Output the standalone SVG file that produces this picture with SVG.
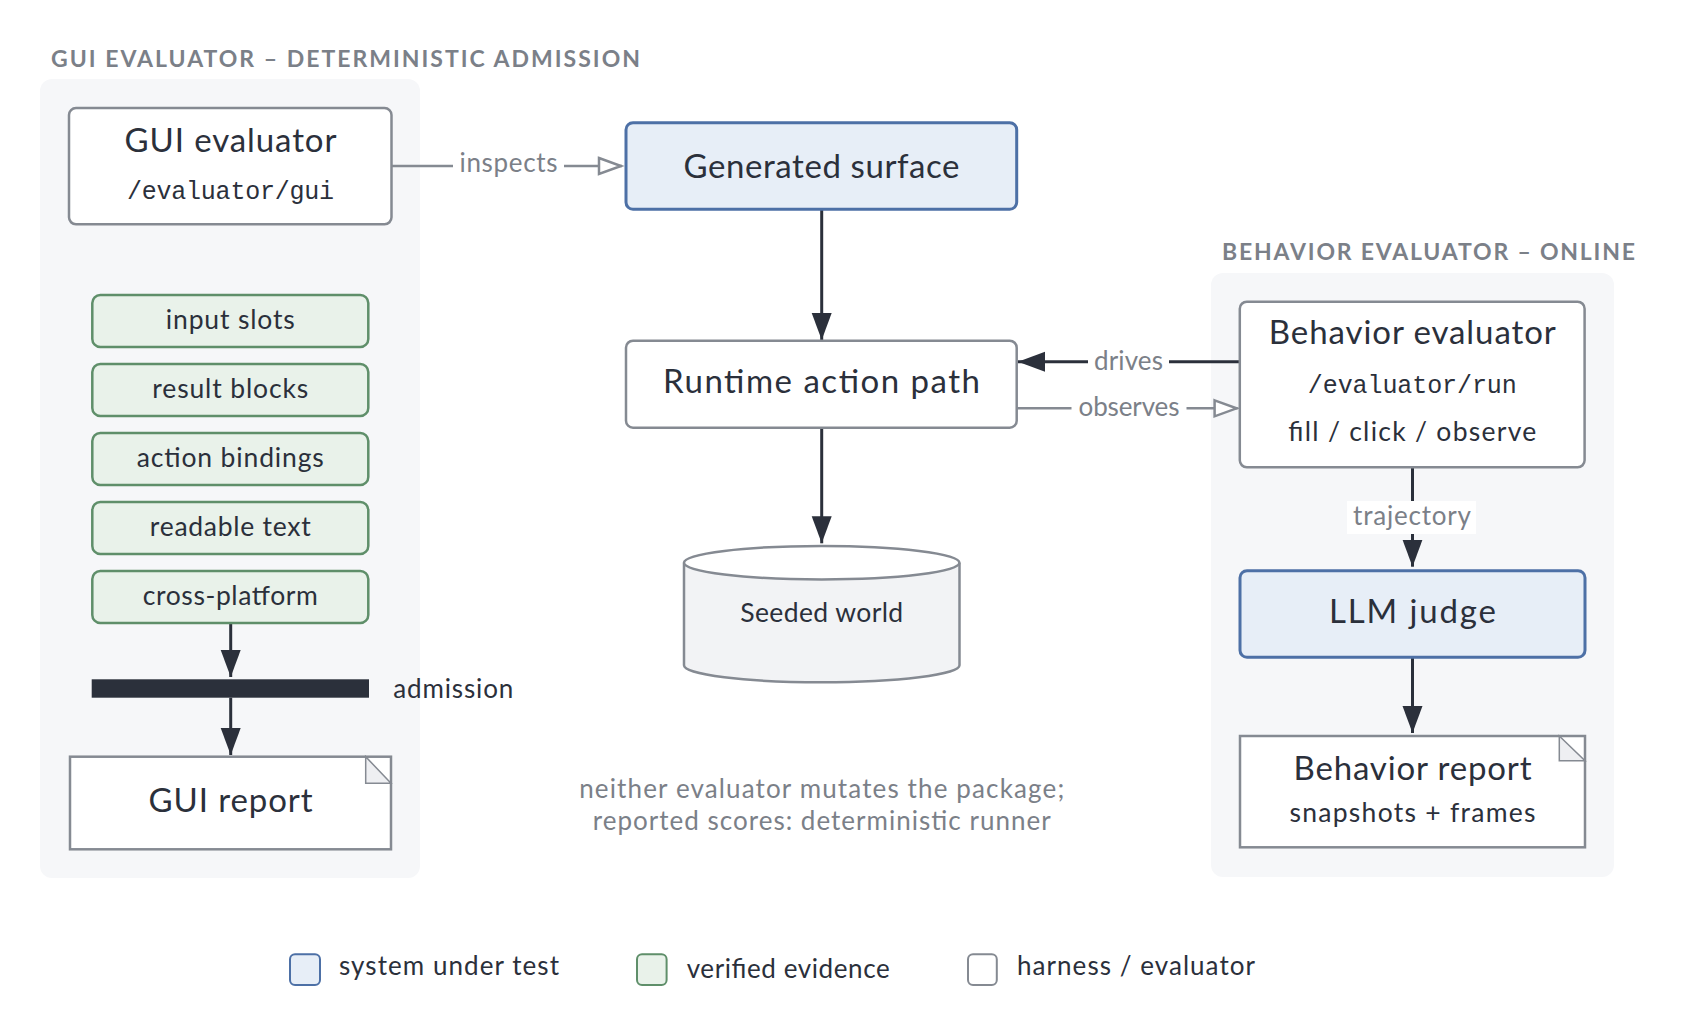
<svg xmlns="http://www.w3.org/2000/svg" width="1700" height="1031" viewBox="0 0 1700 1031">
<style>
text{font-family:Lato,"Noto Sans","DejaVu Sans",sans-serif;fill:#2b303b}
.sec{font-weight:700;font-size:23px;fill:#7b8088}
.big{font-size:33px;text-anchor:middle}
.mid{font-size:26.5px;text-anchor:middle}
.mono{font-family:"Liberation Mono","DejaVu Sans Mono",monospace;font-size:25px;text-anchor:middle}
.lbl{font-size:26px;fill:#7b8088;text-anchor:middle}
.note{font-size:26px;fill:#7b8088;text-anchor:middle}
.leg{font-size:26px}
.panel{fill:#f6f7f9}
.sut{fill:#e7eef7;stroke:#4d70a6;stroke-width:3}
.ev{fill:#e9f2ea;stroke:#5f8f6a;stroke-width:2.5}
.har{fill:#ffffff;stroke:#858a92;stroke-width:2.5}
.ear{fill:#eeeff2;stroke:#858a92;stroke-width:1.5}
.dk{stroke:#2b303b;stroke-width:3;fill:none}
.gy{stroke:#858a92;stroke-width:2.5;fill:none}
</style>
<defs>
<marker id="ad" markerUnits="userSpaceOnUse" markerWidth="28" markerHeight="22" refX="27" refY="10" orient="auto"><path d="M0,0 L27,10 L0,20 z" fill="#2b303b"/></marker>
<marker id="ao" markerUnits="userSpaceOnUse" markerWidth="28" markerHeight="22" refX="25" refY="10" orient="auto"><path d="M2,2 L24,10 L2,18 z" fill="#ffffff" stroke="#858a92" stroke-width="2.5"/></marker>
</defs>
<rect width="1700" height="1031" fill="#ffffff"/>

<g id="panel-gui">
<rect class="panel" x="40" y="79" width="380" height="799" rx="12"/>
<text class="sec" x="51" y="67" textLength="589">GUI EVALUATOR – DETERMINISTIC ADMISSION</text>
</g>
<g id="panel-behavior">
<rect class="panel" x="1211" y="273" width="403" height="604" rx="12"/>
<text class="sec" x="1222" y="260" textLength="413">BEHAVIOR EVALUATOR – ONLINE</text>
</g>

<g id="connectors">
<line class="gy" x1="391.5" y1="166" x2="453" y2="166"/>
<text class="lbl" x="508.5" y="172" textLength="98">inspects</text>
<line class="gy" x1="564" y1="166" x2="622" y2="166" marker-end="url(#ao)"/>
<line class="dk" x1="821.7" y1="209.3" x2="821.7" y2="340" marker-end="url(#ad)"/>
<line class="dk" x1="1239.8" y1="361.7" x2="1169" y2="361.7"/>
<text class="lbl" x="1128.5" y="370" textLength="69">drives</text>
<line class="dk" x1="1088" y1="361.7" x2="1018" y2="361.7" marker-end="url(#ad)"/>
<line class="gy" x1="1017" y1="408.3" x2="1071.5" y2="408.3"/>
<text class="lbl" x="1129" y="416" textLength="101">observes</text>
<line class="gy" x1="1186.5" y1="408.3" x2="1237.6" y2="408.3" marker-end="url(#ao)"/>
<line class="dk" x1="821.7" y1="427.7" x2="821.7" y2="543.3" marker-end="url(#ad)"/>
<line class="dk" x1="1412.5" y1="467.3" x2="1412.5" y2="566.7" marker-end="url(#ad)"/>
<rect x="1347" y="501" width="129" height="33" fill="#ffffff"/>
<text class="lbl" x="1412" y="525" textLength="118">trajectory</text>
<line class="dk" x1="1412.5" y1="657.3" x2="1412.5" y2="733" marker-end="url(#ad)"/>
<line class="dk" x1="230.7" y1="622.7" x2="230.7" y2="677" marker-end="url(#ad)"/>
<line class="dk" x1="230.7" y1="697.7" x2="230.7" y2="755" marker-end="url(#ad)"/>
</g>

<g id="gui-evaluator">
<rect class="har" x="69" y="108" width="322.5" height="116.3" rx="7"/>
<text class="big" x="230.5" y="151.7" textLength="212">GUI evaluator</text>
<text class="mono" x="230.5" y="199" textLength="207">/evaluator/gui</text>
</g>

<g id="input-slots"><rect class="ev" x="92.3" y="295" width="276" height="52" rx="8"/><text class="mid" x="230.3" y="329" textLength="129">input slots</text></g>
<g id="result-blocks"><rect class="ev" x="92.3" y="364" width="276" height="52" rx="8"/><text class="mid" x="230.3" y="398" textLength="156">result blocks</text></g>
<g id="action-bindings"><rect class="ev" x="92.3" y="433" width="276" height="52" rx="8"/><text class="mid" x="230.3" y="467" textLength="187">action bindings</text></g>
<g id="readable-text"><rect class="ev" x="92.3" y="502" width="276" height="52" rx="8"/><text class="mid" x="230.3" y="536" textLength="161">readable text</text></g>
<g id="cross-platform"><rect class="ev" x="92.3" y="571" width="276" height="52" rx="8"/><text class="mid" x="230.3" y="605" textLength="175">cross-platform</text></g>

<g id="admission">
<rect x="91.7" y="679.3" width="277.3" height="18.4" fill="#2b303b"/>
<text class="leg" x="393.3" y="698.3" textLength="120">admission</text>
</g>

<g id="gui-report">
<rect class="har" x="70" y="756.7" width="321" height="92.6"/>
<path class="ear" d="M365.7,756.7 L365.7,783.3 L391,783.3 z"/>
<text class="big" x="230.5" y="811.7" textLength="164">GUI report</text>
</g>

<g id="generated-surface">
<rect class="sut" x="626" y="122.7" width="390.7" height="86.6" rx="7"/>
<text class="big" x="821.5" y="178.3" textLength="276">Generated surface</text>
</g>

<g id="runtime-action-path">
<rect class="har" x="626" y="340.7" width="390.7" height="87" rx="7"/>
<text class="big" x="821.5" y="393.3" textLength="317">Runtime action path</text>
</g>

<g id="seeded-world">
<path d="M684,562.7 L684,665.3 A137.7,17 0 0 0 959.5,665.3 L959.5,562.7" fill="#f2f3f5" stroke="#858a92" stroke-width="2.5"/>
<ellipse cx="821.7" cy="562.7" rx="137.7" ry="16.7" fill="#ffffff" stroke="#858a92" stroke-width="2.5"/>
<text class="mid" x="821.7" y="621.7" textLength="163">Seeded world</text>
</g>

<g id="behavior-evaluator">
<rect class="har" x="1239.8" y="301.7" width="344.8" height="165.6" rx="7"/>
<text class="big" x="1412.3" y="344" textLength="287">Behavior evaluator</text>
<text class="mono" x="1412.3" y="392.7" textLength="209">/evaluator/run</text>
<text class="mid" x="1412.3" y="440.7" textLength="248">fill / click / observe</text>
</g>

<g id="llm-judge">
<rect class="sut" x="1240" y="570.7" width="345" height="86.6" rx="7"/>
<text class="big" x="1412.5" y="622.7" textLength="167">LLM judge</text>
</g>

<g id="behavior-report">
<rect class="har" x="1240" y="736" width="345" height="111.3"/>
<path class="ear" d="M1559.3,736 L1559.3,760.7 L1585,760.7 z"/>
<text class="big" x="1412.5" y="780" textLength="238">Behavior report</text>
<text class="mid" x="1412.5" y="821.7" textLength="246">snapshots + frames</text>
</g>

<g id="note">
<text class="note" x="821.7" y="798.3" textLength="485">neither evaluator mutates the package;</text>
<text class="note" x="821.7" y="830" textLength="458">reported scores: deterministic runner</text>
</g>

<g id="legend">
<rect x="290" y="954.3" width="30" height="30.7" rx="5" fill="#e7eef7" stroke="#4d70a6" stroke-width="2"/>
<text class="leg" x="339" y="975" textLength="220">system under test</text>
<rect x="637" y="954.3" width="29.6" height="30.7" rx="5" fill="#e9f2ea" stroke="#5f8f6a" stroke-width="2"/>
<text class="leg" x="686.7" y="978" textLength="203">verified evidence</text>
<rect x="968" y="954.3" width="28.8" height="30.7" rx="5" fill="#ffffff" stroke="#858a92" stroke-width="2"/>
<text class="leg" x="1017" y="975" textLength="238">harness / evaluator</text>
</g>
</svg>
